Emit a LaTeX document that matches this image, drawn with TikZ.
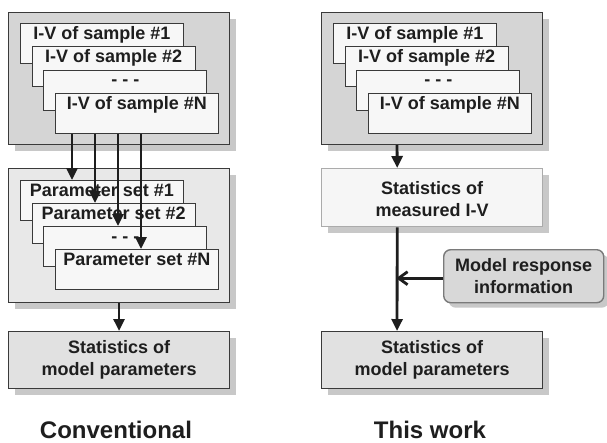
\documentclass[tikz,border=0pt]{standalone}
\usepackage{fontspec}
\setmainfont{Liberation Sans}[BoldFont={Liberation Sans Bold}]
\newfontfamily\heavysans{Liberation Sans Bold}
\usetikzlibrary{arrows.meta,shadows,calc}

\definecolor{ink}{HTML}{1E1E1E}
\definecolor{framegray}{HTML}{3A3A3A}
\definecolor{outerfill}{HTML}{D5D5D5}
\definecolor{paramfill}{HTML}{E8E8E8}
\definecolor{cardfill}{HTML}{F7F7F7}
\definecolor{statfill}{HTML}{E1E1E1}
\definecolor{shadowgray}{HTML}{C8C8C8}
\definecolor{measfill}{HTML}{F6F6F6}
\definecolor{measedge}{HTML}{ABABAB}
\definecolor{modelfill}{HTML}{D8D8D8}
\definecolor{modeledge}{HTML}{7A7A7A}

\tikzset{
  boxshadow/.style={drop shadow={shadow xshift=6pt, shadow yshift=-6pt, fill=shadowgray, opacity=1}},
  panel/.style={draw=framegray, line width=1.1pt, anchor=north west, inner sep=0pt,
    minimum width=221pt, boxshadow},
  card/.style={draw=framegray, line width=0.9pt, fill=cardfill, anchor=north west,
    inner sep=0pt, minimum width=163pt, minimum height=40pt},
  cardtext/.style={anchor=base, inner sep=0pt, text=ink, font=\heavysans\fontsize{18}{22}\selectfont},
  boxtext/.style={align=center, inner sep=0pt, text=ink, font=\heavysans\fontsize{18}{22}\selectfont},
  caption/.style={anchor=base, inner sep=0pt, text=ink, font=\heavysans\fontsize{24}{28}\selectfont},
  arr/.style={line width=2.8pt, draw=ink, -{Triangle[length=12pt,width=11pt]}},
  barb/.style={line width=2.8pt, draw=ink, -{Straight Barb[length=9pt,width=13pt]}}
}

\begin{document}
\begin{tikzpicture}[x=1pt,y=-1pt]
\useasboundingbox (0,0) rectangle (607,442);

% ---------------- Conventional flow ----------------
\node[panel, fill=outerfill, minimum height=132pt] (ivboxL) at (8,12) {};
\node[card] (ivL1) at (20,23) {};
\node[cardtext] (ivL1t) at ([yshift=-16pt]ivL1.north) {I-V of sample \#1};
\node[card] (ivL2) at (31.7,46.3) {};
\node[cardtext] (ivL2t) at ([yshift=-16pt]ivL2.north) {I-V of sample \#2};
\node[card] (ivL3) at (43.4,69.6) {};
\node[cardtext] (ivL3t) at ([yshift=-16pt]ivL3.north) {- - -};
\node[card] (ivL4) at (55,93) {};
\node[cardtext] (ivL4t) at ([yshift=-16pt]ivL4.north) {I-V of sample \#N};

\node[panel, fill=paramfill, minimum height=134pt] (pbox) at (8,168) {};
\node[card] (p1) at (20,180) {};
\node[cardtext] (p1t) at ([yshift=-16.5pt]p1.north) {Parameter set \#1};
\node[card] (p2) at (31.7,203) {};
\node[cardtext] (p2t) at ([yshift=-16.5pt]p2.north) {Parameter set \#2};
\node[card] (p3) at (43.4,226) {};
\node[cardtext] (p3t) at ([yshift=-16.5pt]p3.north) {- - -};
\node[card] (p4) at (55,249) {};
\node[cardtext] (p4t) at ([yshift=-16.5pt]p4.north) {Parameter set \#N};

% one arrow per sample, from the last I-V card down to its parameter set
\draw[arr] ([xshift=17pt]ivL4.south west) -- ([xshift=17pt]ivL4.south west |- p1.north);
\draw[arr] ([xshift=40pt]ivL4.south west) -- ([xshift=40pt]ivL4.south west |- p2.north);
\draw[arr] ([xshift=63pt]ivL4.south west) -- ([xshift=63pt]ivL4.south west |- p3.north);
\draw[arr] ([xshift=86pt]ivL4.south west) -- ([xshift=86pt]ivL4.south west |- p4.north);

\node[panel, fill=statfill, minimum height=57pt] (statL) at (8,331) {};
\node[boxtext] (statLt) at (statL.center) {Statistics of\\model parameters};
\draw[arr] (pbox.south) -- (statL.north);

\node[caption] (capL) at (116,438) {Conventional};

% ---------------- This work ----------------
\node[panel, fill=outerfill, minimum height=132pt] (ivboxR) at (321,12) {};
\node[card] (ivR1) at (333,23) {};
\node[cardtext] (ivR1t) at ([yshift=-16pt]ivR1.north) {I-V of sample \#1};
\node[card] (ivR2) at (344.7,46.3) {};
\node[cardtext] (ivR2t) at ([yshift=-16pt]ivR2.north) {I-V of sample \#2};
\node[card] (ivR3) at (356.4,69.6) {};
\node[cardtext] (ivR3t) at ([yshift=-16pt]ivR3.north) {- - -};
\node[card] (ivR4) at (368,93) {};
\node[cardtext] (ivR4t) at ([yshift=-16pt]ivR4.north) {I-V of sample \#N};

\node[panel, fill=measfill, draw=measedge, line width=1.4pt, minimum height=58pt] (meas) at (321,168) {};
\node[boxtext] (meast) at ([yshift=-1pt]meas.center) {Statistics of\\measured I-V};

\node[panel, fill=statfill, minimum height=57pt] (statR) at (321,331) {};
\node[boxtext] (statRt) at (statR.center) {Statistics of\\model parameters};

\node[draw=modeledge, fill=modelfill, line width=1.4pt, rounded corners=7pt,
      anchor=north west, inner sep=0pt, minimum width=160pt, minimum height=53pt,
      drop shadow={shadow xshift=5pt, shadow yshift=-5pt, fill=shadowgray, opacity=1}]
      (model) at (443,249) {};
\node[boxtext, font=\heavysans\fontsize{18}{21.5}\selectfont] (modelt) at (model.center) {Model response\\information};

\draw[arr] ([xshift=-35pt]ivboxR.south) -- ([xshift=-35pt]meas.north);
\draw[arr] ([xshift=-35pt]meas.south) -- ([xshift=-35pt]statR.north);
\draw[barb] ([yshift=-2pt]model.west) -- ([xshift=-36pt,yshift=-2pt]model.west -| meas.south);

\node[caption] (capR) at (430,438) {This work};
\end{tikzpicture}
\end{document}
